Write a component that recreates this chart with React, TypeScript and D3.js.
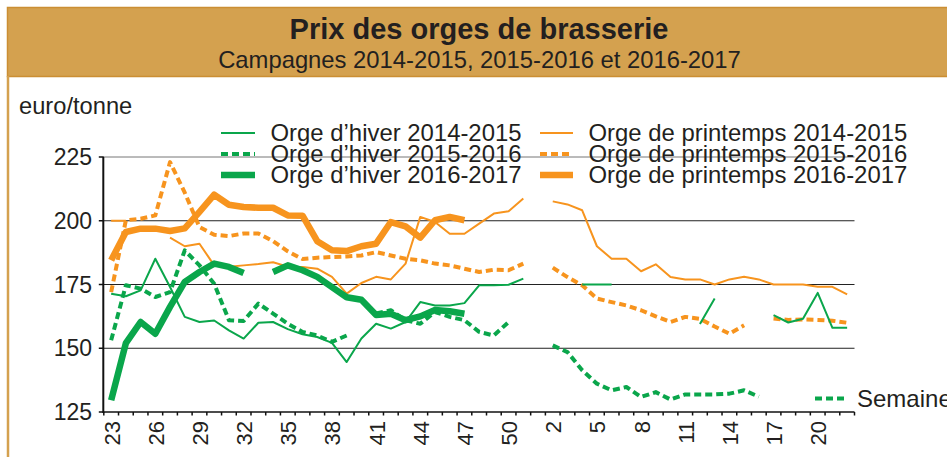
import React from 'react';
import * as d3 from 'd3';

// ---- Data ----
const weeks: string[] = [
  '23','24','25','26','27','28','29','30','31','32','33','34','35','36','37','38','39','40','41','42','43','44','45','46','47','48','49','50','51',
  '1','2','3','4','5','6','7','8','9','10','11','12','13','14','15','16','17','18','19','20','21','22'
];

const yTicks: number[] = [125, 150, 175, 200, 225];

// Orge d'hiver 2014-2015
const hiver1415: (number | null)[] = [
  171.4, 170.4, 172.7, 185.1, 174, 162.3, 160.3, 160.9, 157, 153.8, 160, 160.3, 157.5, 155.5, 154.4, 152.1, 144.6, 153.8, 159.6, 157.7,
  160.3, 168.1, 166.8, 166.8, 167.7, 174.7, 174.7, 174.9, 177.3, null, null, null, 175, 175, 175, null, null, null, null, null,
  159.5, 169.5, null, null, null, 163, 160.1, 161.6, 171.7, 158, 158
];
// Orge d'hiver 2015-2016
const hiver1516: (number | null)[] = [
  153.1, 174.7, 173.4, 170.1, 172, 188.4, 182.5, 175.3, 161, 160.7, 167.5, 163.6, 159.6, 156.4, 155, 152.5, 155, null, 163.6, 164.9,
  161, 159.6, 164.2, 162.3, 161, 156.4, 155, 160.3, null, null, 151.1, 148.5, 141.4, 136.1, 133.5, 134.8, 130.9, 132.8, 129.9, 131.9,
  131.9, 131.9, 132.2, 133.5, 131, null, null, null, null, null, null
];
// Orge d'hiver 2016-2017
const hiver1617: (number | null)[] = [
  129.6, 152, 160.3, 155.7, 166.2, 176, 179.9, 183.2, 181.9, 179.5, null, 179.9, 182.5, 180.6, 178, 174, 170, 169, 163, 163.5,
  161, 162.5, 165, 164.5, 163.5, null, null, null, null, null, null, null, null, null, null, null, null, null, null, null,
  null, null, null, null, null, null, null, null, null, null, null
];
// Orge de printemps 2014-2015
const printemps1415: (number | null)[] = [
  200, 200, null, null, 193.4, 190, 191, 182.5, 182, 182.5, 183, 183.7, 182, 181.9, 181.2, 178, 171.4, 175.6, 178, 177,
  183.2, 201.5, 199.5, 194.9, 194.9, 198.9, 202.8, 203.7, 208.7, null, 207.6, 206.4, 204.1, 190, 185.1, 185.1, 180.2, 182.9, 177.9, 177,
  177, 175, 177, 178, 177, 175, 175, 175, 174.1, 174.1, 171.1
];
// Orge de printemps 2015-2016
const printemps1516: (number | null)[] = [
  172, 200.2, 200.8, 202.1, 223, 211, 197.5, 194.5, 194, 195, 195, 192, 188, 185, 185.5, 185.8, 186, 186.4, 187.7, 186.4,
  185.1, 184.5, 183.2, 182.5, 181.2, 179.9, 180.8, 180.6, 183.2, null, 181.6, 177.9, 174.7, 169.5, 168.1, 166.8, 164.9, 162.5, 160.3, 162.3,
  161.5, 158.5, 155.7, 159, null, 161.7, 161.1, 161.3, 161.1, 160.8, 160
];
// Orge de printemps 2016-2017
const printemps1617: (number | null)[] = [
  184.5, 195.6, 196.9, 196.9, 196, 197, 203.5, 210.2, 206.3, 205.4, 205.1, 205.1, 202.1, 202, 192, 188.4, 188.1, 190, 191, 199.5,
  197.8, 193.4, 200.2, 201.5, 200.2, null, null, null, null, null, null, null, null, null, null, null, null, null, null, null,
  null, null, null, null, null, null, null, null, null, null, null
];

const legendHiver: string[] = ['Orge d\u2019hiver 2014-2015', 'Orge d\u2019hiver 2015-2016', 'Orge d\u2019hiver 2016-2017'];
const legendPrintemps: string[] = ['Orge de printemps 2014-2015', 'Orge de printemps 2015-2016', 'Orge de printemps 2016-2017'];

const GREEN = '#0AA64B';
const ORANGE = '#F7941E';
const TAN = '#D4A14F';
const TEXT = '#231F20';

type Style = { w: number; dash?: string };
const styles: Style[] = [{ w: 2 }, { w: 4, dash: '7,4' }, { w: 6.5 }];

export default function App() {
  const W = 947, H = 457;
  const x = d3.scaleBand<string>().domain(weeks).range([103.8, 854.5]).padding(0);
  const y = d3.scaleLinear().domain([125, 225]).range([412, 157]);
  const bw = x.bandwidth();
  const cx = (i: number) => (x(weeks[i]) as number) + bw / 2;

  const line = d3.line<number | null>()
    .defined((d) => d != null)
    .x((_, i) => cx(i))
    .y((d) => y(d as number));

  const x0 = x.range()[0];
  const x1 = x.range()[1];

  const series = [
    { data: printemps1415, color: ORANGE, s: styles[0] },
    { data: printemps1516, color: ORANGE, s: styles[1] },
    { data: printemps1617, color: ORANGE, s: styles[2] },
    { data: hiver1415, color: GREEN, s: styles[0] },
    { data: hiver1516, color: GREEN, s: styles[1] },
    { data: hiver1617, color: GREEN, s: styles[2] },
  ];

  const font = "'Liberation Sans', Arial, Helvetica, sans-serif";
  const legendRows = [133, 154, 175];

  return (
    <svg width={W} height={H} style={{ position: 'absolute', left: 0, top: 0, display: 'block' }} fontFamily={font}>
      <rect x={0} y={0} width={W} height={H} fill="#fff" />
      {/* header */}
      <rect x={7.5} y={7.5} width={W} height={69} fill={TAN} stroke="#CB8E33" strokeWidth={1.5} />
      <line x1={8} x2={8} y1={76} y2={H} stroke={TAN} strokeWidth={2.5} />
      <text x={479} y={39} textAnchor="middle" fontSize={29} fontWeight="bold" fill={TEXT}>Prix des orges de brasserie</text>
      <text x={479.5} y={68} textAnchor="middle" fontSize={23.8} fill={TEXT}>Campagnes 2014-2015, 2015-2016 et 2016-2017</text>

      <text x={19} y={114} fontSize={23.7} fill={TEXT}>euro/tonne</text>

      {/* gridlines */}
      {yTicks.filter((t) => t !== 125).map((t) => (
        <line key={t} x1={x0} x2={x1} y1={y(t)} y2={y(t)} stroke={t === 225 ? '#777' : '#222'} strokeWidth={1} />
      ))}

      {/* y axis */}
      <line x1={x0 - 0.5} x2={x0 - 0.5} y1={y(225)} y2={y(125) + 1} stroke="#111" strokeWidth={2} />
      {yTicks.map((t) => (
        <g key={t}>
          <line x1={x0 - 5} x2={x0} y1={y(t)} y2={y(t)} stroke="#111" strokeWidth={1.5} />
          <text x={92} y={y(t) + 8} textAnchor="end" fontSize={23} fill={TEXT}>{t}</text>
        </g>
      ))}

      {/* x axis */}
      <line x1={x0 - 1} x2={x1} y1={y(125)} y2={y(125)} stroke="#111" strokeWidth={1.5} />
      {d3.range(weeks.length + 1).map((i) => {
        const xx = x0 + i * bw;
        return <line key={i} x1={xx} x2={xx} y1={y(125)} y2={y(125) + 3.5} stroke="#111" strokeWidth={1.5} />;
      })}
      {weeks.map((w, i) => (i % 3 === 0 ? (
        <text key={w} transform={`translate(${cx(i) + 8.5},${421}) rotate(-90)`} textAnchor="end" fontSize={22} fill={TEXT}>{w}</text>
      ) : null))}

      {/* series */}
      {series.map((sr, k) => (
        <path key={k} d={line(sr.data) || ''} fill="none" stroke={sr.color} strokeWidth={sr.s.w}
          strokeDasharray={sr.s.dash} strokeLinejoin="round" strokeLinecap="butt" />
      ))}

      {/* legend */}
      {legendHiver.map((l, k) => (
        <g key={l}>
          <line x1={221} x2={255} y1={legendRows[k]} y2={legendRows[k]} stroke={GREEN} strokeWidth={styles[k].w}
            strokeDasharray={styles[k].dash} />
          <text x={270.5} y={legendRows[k] + 8} fontSize={23.9} fill={TEXT}>{l}</text>
        </g>
      ))}
      {legendPrintemps.map((l, k) => (
        <g key={l}>
          <line x1={540} x2={573} y1={legendRows[k]} y2={legendRows[k]} stroke={ORANGE} strokeWidth={styles[k].w}
            strokeDasharray={styles[k].dash} />
          <text x={588.5} y={legendRows[k] + 8} fontSize={23.9} fill={TEXT}>{l}</text>
        </g>
      ))}

      {/* bottom-right legend fragment */}
      <line x1={815} x2={846} y1={398.5} y2={398.5} stroke={GREEN} strokeWidth={4} strokeDasharray="7,4" />
      <text x={857} y={407} fontSize={24} fill={TEXT}>Semaine</text>
    </svg>
  );
}
